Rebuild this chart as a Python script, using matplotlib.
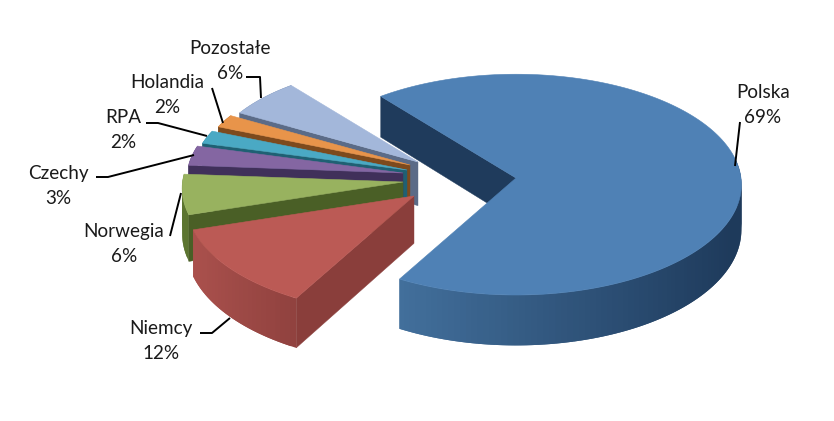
import numpy as np
import matplotlib
matplotlib.use("Agg")
import matplotlib.pyplot as plt
from matplotlib.patches import Polygon

# --- data ---
categories = ["Polska", "Niemcy", "Norwegia", "Czechy", "RPA", "Holandia", "Pozostałe"]
shares = [69, 12, 6, 3, 2, 2, 6]

# --- style / layout (pixels of the 834x421 canvas) ---
top_colors = ["#4f81b5", "#bb5a55", "#98b25f", "#8466a2", "#4aa9c4", "#e8944a", "#a3b7da"]
wall_colors = ["#1f3b5c", "#8a3e3b", "#4a5f26", "#40305a", "#1f6073", "#7d4a1d", "#5b6b87"]
side_light = ["#44729f", "#ab514d", "#5c7530", "#4c3a6a", "#2a7288", "#8f5824", "#6a7c9a"]
side_dark = ["#1e3a5b", "#8f413e", "#46591f", "#40305a", "#1f6073", "#7d4a1d", "#5b6b87"]
apex_x = [516, 414, 403, 403, 407, 410, 418]
apex_y = [178, 196, 182, 173, 170, 165, 162]
radius_scale = [1.0, 1.01, 0.98, 0.96, 0.955, 0.94, 0.935]
RX, RY, PERSP, DEPTH, DEPTH_P = 225, 110, 0.06, 45, 0.12
START_DEG = 129

label_x = [763, 161, 124, 58, 123, 167, 230]
label_y = [105, 341, 244, 186, 130, 95, 61]
leaders = [
    [(735, 166), (740, 122)],
    [(200, 333), (212, 333), (230, 318)],
    [(170, 236), (181, 193)],
    [(96, 177), (108, 177), (194, 155)],
    [(146, 123), (158, 123), (207, 136)],
    [(212, 88), (223, 123)],
    [(246, 77), (260, 77), (261, 98)],
]


def rim(ax0, ay0, theta, r=1.0):
    u, v = r * np.cos(theta), r * np.sin(theta)
    s = 1 / (1 + PERSP * v)
    return ax0 + RX * u * s, ay0 - RY * v * s


def depth(v):
    return DEPTH * (1 - DEPTH_P * v)


def mix(c1, c2, t):
    a = np.array(matplotlib.colors.to_rgb(c1))
    b = np.array(matplotlib.colors.to_rgb(c2))
    return tuple(a + (b - a) * t)


fig = plt.figure(figsize=(8.34, 4.21), dpi=100)
ax = fig.add_axes([0, 0, 1, 1])
ax.set_xlim(0, 834)
ax.set_ylim(421, 0)
ax.axis("off")

fractions = np.array(shares) / sum(shares)
edges = np.radians(START_DEG) - 2 * np.pi * np.concatenate([[0], np.cumsum(fractions)])


def draw_slice(i):
    x0, y0 = apex_x[i], apex_y[i]
    t0, t1 = edges[i], edges[i + 1]
    ts = np.linspace(t0, t1, max(8, int(abs(t1 - t0) * 40)))
    xs, ys = rim(x0, y0, ts, radius_scale[i])
    ds = depth(np.sin(ts))
    # outer side, shaded across the rim; each quad overlaps the next
    for k in range(len(ts) - 1):
        if np.sin(ts[k]) > 0.2 and i == 0:
            continue
        if i == 0:
            g = np.clip((np.cos(ts[k]) + 0.55) / 1.5, 0, 1)
        else:
            g = np.clip((np.cos(ts[k]) + 0.96) / 0.5, 0, 1)
        col = mix(side_light[i], side_dark[i], g)
        e = min(k + 2, len(ts) - 1)
        q = [(xs[k], ys[k]), (xs[e], ys[e]), (xs[e], ys[e] + ds[e]), (xs[k], ys[k] + ds[k])]
        ax.add_patch(Polygon(q, closed=True, fc=col, ec="none", zorder=1))
    # wall along the slice's leading cut
    d0 = depth(np.sin(t0) * 0.5)
    wall = [(x0, y0), (xs[0], ys[0]), (xs[0], ys[0] + ds[0]), (x0, y0 + d0)]
    ax.add_patch(Polygon(wall, closed=True, fc=wall_colors[i], ec=wall_colors[i], lw=0.3, zorder=1))
    # top face
    top = [(x0, y0)] + list(zip(xs, ys))
    ax.add_patch(Polygon(top, closed=True, fc=top_colors[i], ec=top_colors[i], lw=0.4, zorder=1))


for i in [0, 6, 5, 4, 3, 2, 1]:
    draw_slice(i)

for pts in leaders:
    px, py = zip(*pts)
    ax.plot(px, py, color="black", lw=1.4, solid_capstyle="butt", zorder=3)

for name, val, lx, ly in zip(categories, shares, label_x, label_y):
    ax.text(lx, ly, f"{name}\n{val}%", ha="center", va="center", family="Lato",
            fontsize=13.6, color="#1a1a1a", linespacing=1.52, zorder=4)

fig.savefig("out.png", dpi=100, facecolor="white")
